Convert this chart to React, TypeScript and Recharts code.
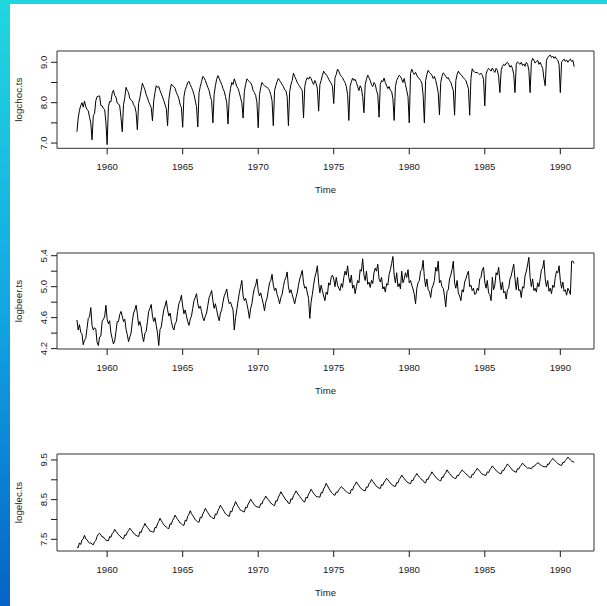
import React from "react";
import { LineChart, Line, XAxis, YAxis, ReferenceArea, Label } from "recharts";

// monthly log production, Jan 1958 - Dec 1990 (one row per year)
const choc = [
  7.28, 7.62, 7.81, 7.93, 8.00, 7.89, 8.04, 7.90, 7.83, 7.80, 7.64, 7.50,
  7.08, 7.68, 7.73, 8.05, 8.15, 8.16, 8.17, 7.93, 7.92, 7.86, 7.83, 7.52,
  6.96, 7.90, 8.03, 8.02, 8.24, 8.31, 8.18, 8.14, 7.99, 7.97, 7.92, 7.63,
  7.28, 7.95, 8.12, 8.38, 8.30, 8.25, 8.10, 8.07, 8.04, 7.95, 7.90, 7.76,
  7.33, 7.98, 8.12, 8.30, 8.48, 8.40, 8.32, 8.20, 8.12, 8.02, 7.95, 7.88,
  7.55, 8.05, 8.25, 8.42, 8.38, 8.40, 8.30, 8.22, 8.14, 8.05, 7.95, 7.85,
  7.43, 8.08, 8.30, 8.46, 8.42, 8.40, 8.35, 8.25, 8.18, 8.10, 7.95, 7.88,
  7.39, 8.15, 8.32, 8.40, 8.50, 8.53, 8.45, 8.38, 8.30, 8.20, 8.05, 7.90,
  7.40, 8.25, 8.40, 8.52, 8.65, 8.62, 8.55, 8.46, 8.38, 8.30, 8.15, 8.05,
  7.50, 8.20, 8.42, 8.58, 8.67, 8.60, 8.52, 8.45, 8.35, 8.28, 8.15, 8.00,
  7.47, 8.12, 8.35, 8.50, 8.45, 8.59, 8.50, 8.40, 8.35, 8.25, 8.12, 8.00,
  7.62, 8.28, 8.45, 8.59, 8.55, 8.52, 8.50, 8.42, 8.30, 8.25, 8.18, 8.00,
  7.38, 8.20, 8.38, 8.50, 8.45, 8.42, 8.40, 8.38, 8.35, 8.30, 8.20, 8.05,
  7.43, 8.30, 8.42, 8.52, 8.60, 8.55, 8.50, 8.45, 8.40, 8.32, 8.30, 8.15,
  7.43, 8.28, 8.45, 8.55, 8.73, 8.65, 8.58, 8.50, 8.45, 8.40, 8.35, 8.30,
  7.62, 8.40, 8.55, 8.62, 8.58, 8.64, 8.60, 8.52, 8.45, 8.55, 8.48, 8.35,
  7.79, 8.45, 8.55, 8.68, 8.78, 8.72, 8.70, 8.65, 8.58, 8.52, 8.48, 8.40,
  7.98, 8.62, 8.70, 8.83, 8.78, 8.70, 8.65, 8.62, 8.55, 8.50, 8.40, 8.20,
  7.56, 8.40, 8.52, 8.61, 8.55, 8.58, 8.50, 8.40, 8.30, 8.42, 8.35, 8.15,
  7.75, 8.45, 8.58, 8.68, 8.62, 8.55, 8.45, 8.40, 8.50, 8.45, 8.30, 8.20,
  7.64, 8.45, 8.55, 8.52, 8.61, 8.50, 8.42, 8.35, 8.40, 8.30, 8.28, 8.10,
  7.56, 8.40, 8.55, 8.62, 8.68, 8.65, 8.58, 8.50, 8.60, 8.45, 8.30, 8.15,
  7.50, 8.72, 8.83, 8.75, 8.70, 8.75, 8.68, 8.62, 8.60, 8.55, 8.48, 8.20,
  7.50, 8.55, 8.70, 8.80, 8.75, 8.72, 8.68, 8.60, 8.65, 8.55, 8.42, 8.25,
  7.70, 8.50, 8.65, 8.74, 8.70, 8.65, 8.60, 8.62, 8.55, 8.50, 8.40, 8.30,
  7.69, 8.55, 8.70, 8.78, 8.72, 8.70, 8.66, 8.62, 8.58, 8.55, 8.45, 8.35,
  7.69, 8.60, 8.84, 8.78, 8.76, 8.74, 8.75, 8.72, 8.70, 8.73, 8.68, 8.58,
  7.92, 8.70, 8.80, 8.85, 8.82, 8.78, 8.86, 8.80, 8.75, 8.85, 8.80, 8.65,
  8.25, 8.80, 8.90, 8.95, 8.92, 8.98, 9.00, 8.95, 8.88, 8.92, 8.85, 8.70,
  8.25, 8.95, 9.01, 8.98, 8.95, 9.00, 8.92, 8.96, 8.90, 9.00, 8.95, 8.80,
  8.25, 9.00, 9.10, 9.05, 8.98, 9.02, 9.05, 8.95, 9.00, 8.92, 8.85, 8.60,
  8.42, 9.05, 9.12, 9.15, 9.18, 9.12, 9.15, 9.10, 9.14, 9.08, 9.05, 8.95,
  8.25, 9.00, 9.05, 9.08, 9.02, 9.06, 9.00, 9.05, 9.08, 9.02, 9.05, 8.89,
];

const beer = [
  4.57, 4.44, 4.51, 4.41, 4.39, 4.25, 4.31, 4.33, 4.46, 4.59, 4.61, 4.73,
  4.50, 4.44, 4.47, 4.45, 4.28, 4.24, 4.35, 4.36, 4.55, 4.58, 4.61, 4.76,
  4.58, 4.52, 4.56, 4.40, 4.33, 4.26, 4.30, 4.42, 4.55, 4.55, 4.64, 4.68,
  4.62, 4.55, 4.58, 4.45, 4.38, 4.29, 4.35, 4.40, 4.55, 4.66, 4.70, 4.76,
  4.65, 4.50, 4.55, 4.48, 4.36, 4.29, 4.40, 4.42, 4.55, 4.68, 4.72, 4.77,
  4.62, 4.55, 4.60, 4.50, 4.40, 4.24, 4.45, 4.48, 4.60, 4.70, 4.75, 4.82,
  4.70, 4.62, 4.66, 4.55, 4.48, 4.44, 4.52, 4.55, 4.68, 4.78, 4.82, 4.89,
  4.75, 4.65, 4.70, 4.62, 4.55, 4.50, 4.58, 4.62, 4.72, 4.82, 4.86, 4.91,
  4.78, 4.72, 4.75, 4.68, 4.60, 4.56, 4.62, 4.66, 4.76, 4.86, 4.90, 4.95,
  4.82, 4.72, 4.78, 4.70, 4.62, 4.56, 4.66, 4.70, 4.80, 4.88, 4.92, 4.97,
  4.85, 4.78, 4.80, 4.75, 4.70, 4.44, 4.60, 4.70, 4.82, 4.92, 5.00, 5.08,
  4.88, 4.82, 4.85, 4.78, 4.70, 4.59, 4.72, 4.78, 4.90, 4.98, 5.02, 5.10,
  4.95, 4.88, 4.92, 4.85, 4.78, 4.69, 4.80, 4.85, 4.95, 5.05, 5.08, 5.16,
  5.02, 4.95, 4.98, 4.90, 4.85, 4.78, 4.86, 4.90, 5.00, 5.08, 5.12, 5.19,
  5.00, 4.92, 4.96, 4.90, 4.84, 4.78, 4.86, 4.92, 5.02, 5.10, 5.15, 5.21,
  5.05, 4.98, 5.00, 4.92, 4.85, 4.59, 4.80, 4.90, 5.02, 5.12, 5.18, 5.27,
  5.05, 4.92, 5.02, 4.95, 4.88, 4.82, 4.93, 4.90, 5.05, 5.02, 5.12, 5.15,
  5.10, 5.00, 5.12, 5.02, 4.98, 4.95, 5.04, 4.99, 5.12, 5.20, 5.15, 5.27,
  5.12, 5.05, 5.15, 4.98, 5.02, 4.91, 5.00, 5.08, 5.05, 5.22, 5.20, 5.36,
  5.15, 5.08, 5.20, 5.03, 5.06, 4.99, 5.08, 5.04, 5.18, 5.24, 5.20, 5.29,
  5.10, 5.06, 5.12, 4.97, 5.00, 4.93, 5.04, 5.02, 5.16, 5.22, 5.30, 5.39,
  5.15, 5.05, 5.18, 5.00, 5.04, 4.97, 5.20, 5.05, 5.10, 5.18, 5.12, 5.22,
  5.05, 5.08, 5.02, 4.97, 4.90, 4.78, 4.98, 5.05, 5.08, 5.20, 5.22, 5.34,
  5.12, 5.00, 5.10, 4.96, 4.94, 4.86, 4.98, 5.02, 5.08, 5.25, 5.20, 5.33,
  5.05, 5.08, 5.00, 4.98, 4.88, 4.74, 4.94, 4.96, 5.10, 5.15, 5.22, 5.33,
  5.05, 4.98, 5.08, 4.92, 4.88, 4.82, 4.96, 4.93, 5.06, 5.10, 5.16, 5.20,
  5.00, 5.02, 4.95, 4.98, 4.90, 4.91, 4.98, 4.95, 5.10, 5.12, 5.22, 5.25,
  5.06, 4.98, 5.08, 4.92, 4.90, 4.82, 5.12, 4.96, 5.02, 5.18, 5.15, 5.25,
  5.08, 4.96, 5.06, 4.92, 4.94, 4.84, 4.96, 4.98, 5.10, 5.14, 5.22, 5.29,
  5.10, 4.96, 5.12, 4.95, 4.96, 4.86, 5.00, 4.98, 5.14, 5.20, 5.28, 5.38,
  5.12, 5.00, 5.10, 4.95, 4.98, 4.93, 5.05, 5.00, 5.10, 5.22, 5.24, 5.34,
  5.10, 5.00, 5.08, 4.94, 4.98, 4.91, 5.02, 4.99, 5.12, 5.20, 5.18, 5.27,
  5.08, 4.98, 5.06, 4.94, 4.96, 4.89, 4.98, 4.95, 4.90, 5.33, 5.33, 5.30,
];

const elec = [
  7.31, 7.29, 7.41, 7.37, 7.48, 7.51, 7.60, 7.51, 7.49, 7.44, 7.40, 7.41,
  7.38, 7.36, 7.44, 7.47, 7.57, 7.63, 7.65, 7.61, 7.56, 7.56, 7.51, 7.48,
  7.47, 7.46, 7.57, 7.55, 7.64, 7.68, 7.75, 7.70, 7.66, 7.62, 7.58, 7.56,
  7.52, 7.51, 7.61, 7.60, 7.68, 7.72, 7.78, 7.74, 7.70, 7.66, 7.62, 7.60,
  7.58, 7.57, 7.69, 7.67, 7.77, 7.82, 7.90, 7.84, 7.80, 7.76, 7.71, 7.70,
  7.69, 7.68, 7.80, 7.79, 7.89, 7.95, 8.03, 7.97, 7.92, 7.87, 7.83, 7.81,
  7.78, 7.77, 7.89, 7.88, 7.98, 8.03, 8.11, 8.05, 8.00, 7.96, 7.91, 7.89,
  7.86, 7.85, 7.98, 7.96, 8.08, 8.13, 8.22, 8.15, 8.10, 8.05, 7.99, 7.97,
  7.94, 7.93, 8.06, 8.04, 8.14, 8.20, 8.28, 8.22, 8.17, 8.12, 8.07, 8.06,
  8.03, 8.02, 8.14, 8.12, 8.22, 8.28, 8.36, 8.30, 8.25, 8.20, 8.14, 8.12,
  8.09, 8.08, 8.21, 8.19, 8.30, 8.36, 8.45, 8.38, 8.33, 8.28, 8.23, 8.22,
  8.20, 8.19, 8.31, 8.29, 8.39, 8.44, 8.51, 8.46, 8.41, 8.37, 8.33, 8.32,
  8.31, 8.30, 8.40, 8.39, 8.48, 8.52, 8.59, 8.54, 8.50, 8.46, 8.41, 8.39,
  8.36, 8.35, 8.47, 8.46, 8.56, 8.62, 8.70, 8.64, 8.59, 8.54, 8.49, 8.47,
  8.41, 8.40, 8.52, 8.50, 8.60, 8.65, 8.72, 8.67, 8.62, 8.58, 8.53, 8.50,
  8.45, 8.44, 8.56, 8.54, 8.64, 8.69, 8.76, 8.71, 8.66, 8.62, 8.58, 8.57,
  8.57, 8.56, 8.68, 8.67, 8.77, 8.83, 8.91, 8.85, 8.79, 8.74, 8.69, 8.66,
  8.62, 8.61, 8.69, 8.68, 8.75, 8.78, 8.83, 8.80, 8.76, 8.73, 8.70, 8.68,
  8.66, 8.65, 8.76, 8.74, 8.84, 8.88, 8.95, 8.90, 8.85, 8.81, 8.77, 8.75,
  8.73, 8.72, 8.82, 8.81, 8.90, 8.94, 9.01, 8.96, 8.92, 8.88, 8.83, 8.81,
  8.79, 8.78, 8.88, 8.86, 8.94, 8.98, 9.04, 9.00, 8.96, 8.92, 8.88, 8.86,
  8.84, 8.83, 8.93, 8.92, 9.01, 9.05, 9.12, 9.07, 9.03, 8.99, 8.95, 8.93,
  8.91, 8.90, 8.99, 8.98, 9.06, 9.10, 9.16, 9.11, 9.07, 9.04, 9.00, 8.98,
  8.93, 8.92, 9.02, 9.01, 9.09, 9.13, 9.20, 9.15, 9.11, 9.07, 9.03, 9.01,
  8.98, 8.97, 9.07, 9.06, 9.14, 9.18, 9.25, 9.20, 9.16, 9.12, 9.08, 9.06,
  9.04, 9.03, 9.11, 9.10, 9.16, 9.20, 9.25, 9.22, 9.18, 9.15, 9.12, 9.10,
  9.06, 9.05, 9.14, 9.13, 9.20, 9.23, 9.29, 9.25, 9.21, 9.18, 9.14, 9.13,
  9.12, 9.11, 9.20, 9.18, 9.26, 9.29, 9.35, 9.31, 9.27, 9.24, 9.20, 9.18,
  9.16, 9.15, 9.24, 9.23, 9.30, 9.34, 9.40, 9.36, 9.32, 9.29, 9.24, 9.22,
  9.20, 9.19, 9.28, 9.27, 9.33, 9.37, 9.42, 9.38, 9.35, 9.32, 9.29, 9.30,
  9.29, 9.28, 9.33, 9.33, 9.37, 9.39, 9.43, 9.41, 9.38, 9.36, 9.34, 9.33,
  9.33, 9.32, 9.40, 9.39, 9.46, 9.49, 9.54, 9.51, 9.47, 9.44, 9.41, 9.39,
  9.37, 9.36, 9.44, 9.43, 9.49, 9.52, 9.57, 9.54, 9.50, 9.47, 9.46, 9.44,
];

const startYear = 1958;
const xTicks = [1960, 1965, 1970, 1975, 1980, 1985, 1990];

const chocTicks = [7.0, 7.5, 8.0, 8.5, 9.0];
const chocLabels = [7.0, 8.0, 9.0];
const beerTicks = [4.2, 4.4, 4.6, 4.8, 5.0, 5.2, 5.4];
const beerLabels = [4.2, 4.6, 5.0, 5.4];
const elecTicks = [7.5, 8.0, 8.5, 9.0, 9.5];
const elecLabels = [7.5, 8.5, 9.5];

const rows = choc.map((v, i) => ({
  t: startYear + i / 12,
  choc: v,
  beer: beer[i],
  elec: elec[i],
}));

const font = "'Liberation Sans', Arial, sans-serif";
const xDomain: [number, number] = [1956.68, 1992.23];
const ink = "#1a1a1a";

function Panel({ top, plotH, dataKey, yDomain, yTicks, yLabels, title }: any) {
  const chartH = 202;
  const padTop = 50;
  const xAxisH = chartH - padTop - plotH;

  const yTick = (p: any) => {
    const v = p.payload.value;
    if (!yLabels.some((l: number) => Math.abs(l - v) < 1e-6)) return <g />;
    return (
      <text x={47} y={p.y} transform={`rotate(-90 47 ${p.y})`} textAnchor="middle"
        fontSize={9.6} fill={ink} fontFamily={font}>
        {v.toFixed(1)}
      </text>
    );
  };

  return (
    <div style={{ position: "absolute", left: 0, top }}>
      <LineChart width={607} height={chartH} data={rows}
        margin={{ top: padTop, right: 13, bottom: 0, left: 0 }}>
        <XAxis dataKey="t" type="number" domain={xDomain} allowDataOverflow
          ticks={xTicks} interval={0} height={xAxisH} tickSize={6} tickMargin={9}
          axisLine={false} tickLine={{ stroke: ink }}
          tick={{ fontSize: 9.6, fill: ink, fontFamily: font }}>
          <Label content={() => (
            <text x={325.5} y={padTop + plotH + 45} textAnchor="middle"
              fontSize={9.6} fill={ink} fontFamily={font}>Time</text>
          )} />
        </XAxis>
        <YAxis type="number" domain={yDomain} allowDataOverflow ticks={yTicks}
          interval={0} width={57} tickSize={6} axisLine={false}
          tickLine={{ stroke: ink }} tick={yTick}>
          <Label content={() => {
            const yc = padTop + plotH / 2;
            return (
              <text x={22} y={yc} transform={`rotate(-90 22 ${yc})`} textAnchor="middle"
                fontSize={9.8} fill={ink} fontFamily={font}>{title}</text>
            );
          }} />
        </YAxis>
        <ReferenceArea x1={xDomain[0]} x2={xDomain[1]} y1={yDomain[0]} y2={yDomain[1]}
          fill="none" stroke="#333" strokeWidth={1} ifOverflow="visible" />
        <Line dataKey={dataKey} type="linear" stroke="#000" strokeWidth={1}
          dot={false} activeDot={false} isAnimationActive={false} />
      </LineChart>
    </div>
  );
}

export default function App() {
  return (
    <div style={{ position: "fixed", left: 0, top: 0, width: 607, height: 606,
      background: "#fff", overflow: "hidden" }}>
      <div style={{ position: "absolute", left: 0, top: 0, width: 607, height: 4, background: "#21d5df" }} />
      <div style={{ position: "absolute", left: 0, top: 0, width: 10, height: 606,
        background: "linear-gradient(#21d7df, #12a8e3 50%, #0663c8)" }} />
      <Panel top={0.7} plotH={97.3} dataKey="choc" yDomain={[6.87, 9.28]}
        yTicks={chocTicks} yLabels={chocLabels} title="logchoc.ts" />
      <Panel top={202.7} plotH={96} dataKey="beer" yDomain={[4.195, 5.435]}
        yTicks={beerTicks} yLabels={beerLabels} title="logbeer.ts" />
      <Panel top={404} plotH={97} dataKey="elec" yDomain={[7.205, 9.65]}
        yTicks={elecTicks} yLabels={elecLabels} title="logelec.ts" />
    </div>
  );
}
